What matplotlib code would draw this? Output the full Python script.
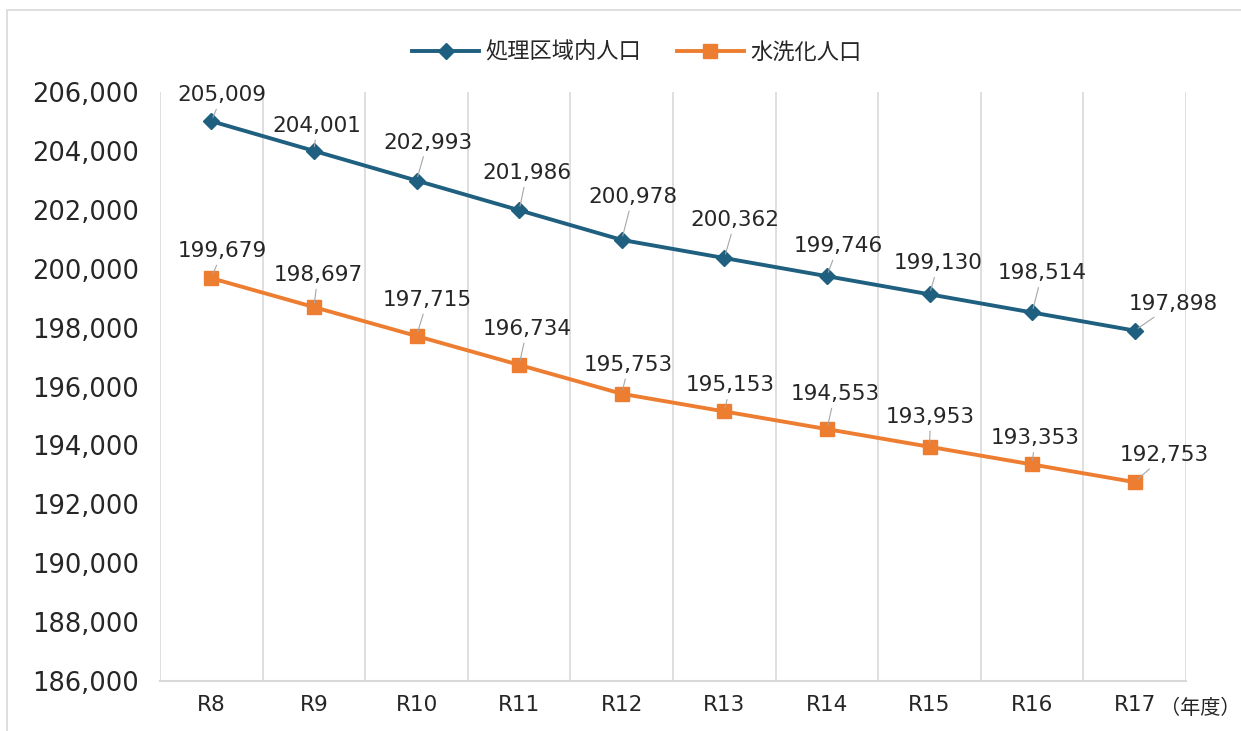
import matplotlib
matplotlib.use("Agg")
import matplotlib.pyplot as plt
import numpy as np
from matplotlib.patches import Rectangle

plt.rcParams['font.family'] = ['DejaVu Sans', 'Noto Sans CJK JP']

categories = ["R8", "R9", "R10", "R11", "R12", "R13", "R14", "R15", "R16", "R17"]
area_pop = [205009, 204001, 202993, 201986, 200978, 200362, 199746, 199130, 198514, 197898]
flush_pop = [199679, 198697, 197715, 196734, 195753, 195153, 194553, 193953, 193353, 192753]
series_names = ["処理区域内人口", "水洗化人口"]
unit_label = "（年度）"

# label offsets (pixels)
area_off = [(11, 26), (3, 25), (11, 38), (8, 37), (11, 43), (11, 38), (11, 30), (9, 31), (10, 39), (39, 27)]
flush_off = [(11, 27), (4, 32), (11, 36), (8, 36), (7, 29), (6, 26), (8, 35), (1, 30), (3, 26), (30, 27)]

W, H = 1241, 731
fig = plt.figure(figsize=(W / 100, H / 100), dpi=100)
fig.patches.append(Rectangle((7 / W, -0.1), 1.2, 1 - 10 / H + 0.1, transform=fig.transFigure,
                             fill=False, edgecolor='#d9d9d9', lw=1.2))
ax = fig.add_axes([160 / W, 1 - 681 / H, (1186 - 160) / W, (681 - 92) / H])

blue = '#1f5f7f'
orange = '#ed7d31'
text_c = '#262626'
x = np.arange(len(categories))

ax.plot(x, area_pop, color=blue, lw=2.8, marker='D', markersize=8.5, label=series_names[0], zorder=3)
ax.plot(x, flush_pop, color=orange, lw=2.8, marker='s', markersize=10.5, label=series_names[1], zorder=3)

for vals, offs in ((area_pop, area_off), (flush_pop, flush_off)):
    for xi, v, (dx, dy) in zip(x, vals, offs):
        ax.annotate(f"{v:,}", xy=(xi, v), xytext=(dx, dy), textcoords='offset pixels',
                    ha='center', va='center', fontsize=15.5, color=text_c,
                    arrowprops=dict(arrowstyle='-', color='#a6a6a6', lw=0.8, shrinkA=1, shrinkB=3),
                    zorder=4)

ax.set_xlim(-0.5, len(categories) - 0.5)
ax.set_ylim(186000, 206000)
ax.set_yticks(np.arange(186000, 206001, 2000))
ax.yaxis.set_major_formatter(matplotlib.ticker.FuncFormatter(lambda v, p: f"{int(v):,}"))
ax.set_xticks(x)
ax.set_xticklabels(categories)
ax.set_xticks(np.arange(-0.5, len(categories), 1), minor=True)
ax.grid(which='minor', axis='x', color='#d9d9d9', lw=1.2)
ax.tick_params(which='both', length=0)
ax.tick_params(axis='y', labelsize=18.5, pad=15, labelcolor=text_c)
ax.tick_params(axis='x', labelsize=15.5, pad=10, labelcolor=text_c)
for s in ('top', 'right', 'left'):
    ax.spines[s].set_visible(False)
ax.spines['bottom'].set_color('#d9d9d9')
ax.spines['bottom'].set_linewidth(1.5)

fig.text(1240 / W, 1 - 709 / H, unit_label, fontsize=14.5, color=text_c, ha='right', va='center',
         family=['Noto Sans CJK JP', 'DejaVu Sans'])

leg = fig.legend(loc='center', bbox_to_anchor=(637 / W, 1 - 52 / H), ncol=2, frameon=False,
                 prop={'size': 16, 'family': ['Noto Sans CJK JP', 'DejaVu Sans']},
                 handlelength=3.0, columnspacing=1.6, handletextpad=0.3)
for t in leg.get_texts():
    t.set_color(text_c)

fig.savefig("out.png", dpi=100)
